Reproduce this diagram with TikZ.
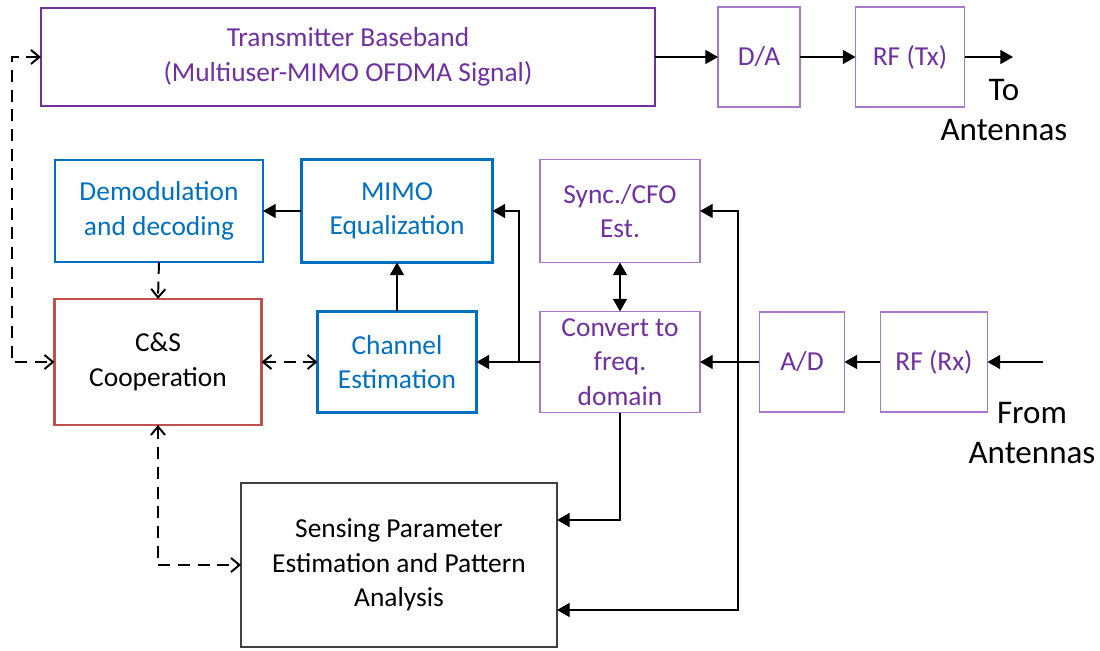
\documentclass[tikz,border=0pt]{standalone}
\usepackage{fontspec}
\setmainfont{Carlito}
\usetikzlibrary{arrows.meta}
\definecolor{txpurple}{HTML}{7030A0}
\definecolor{lightpurple}{HTML}{A878CC}
\definecolor{boxblue}{HTML}{0070C0}
\definecolor{boxred}{HTML}{C0504D}
\begin{document}
\begin{tikzpicture}[x=0.025cm, y=-0.025cm,
    blk/.style={draw, inner sep=0pt, outer sep=0pt, align=center, font=\fontsize{19.5}{24.5}\selectfont},
    pblk/.style={blk, draw=lightpurple, line width=0.8pt, text=txpurple},
    bblk/.style={blk, draw=boxblue, line width=1.6pt, text=boxblue},
    sig/.style={line width=0.9pt, -{Triangle[length=9pt, width=10pt]}},
    ctl/.style={line width=1.4pt, dash pattern=on 8.5pt off 5.5pt, {Straight Barb[length=6pt, width=10pt]}-{Straight Barb[length=6pt, width=10pt]}},
    lbl/.style={align=center, font=\fontsize{23.5}{28.5}\selectfont}]
    \useasboundingbox (0,0) rectangle (1100,651);
    % transmit chain
    \node[blk, draw=txpurple, line width=1.8pt, text=txpurple, minimum width=15.35cm, minimum height=2.45cm] (TB) at (348,57) {Transmitter Baseband\\(Multiuser-MIMO OFDMA Signal)};
    \node[pblk, minimum width=2.05cm, minimum height=2.5cm] (DA) at (759,57) {D/A};
    \node[pblk, minimum width=2.725cm, minimum height=2.5cm] (RFTX) at (910,57) {RF (Tx)};
    \coordinate (TXOUT) at (1013,57);
    \node[lbl] (TOANT) at (1004,110) {To\\Antennas};
    % receive chain
    \node[bblk, minimum width=5.2cm, minimum height=2.55cm] (DEMOD) at (159,211) {Demodulation\\and decoding};
    \node[bblk, minimum width=4.775cm, minimum height=2.575cm] (MIMO) at (397,211) {MIMO\\Equalization};
    \node[pblk, minimum width=4cm, minimum height=2.575cm] (SYNC) at (620,211) {Sync./CFO\\Est.};
    \node[blk, draw=boxred, line width=1.8pt, minimum width=5.175cm, minimum height=3.15cm] (CS) at (158,362) {C\&S\\Cooperation};
    \node[bblk, minimum width=3.975cm, minimum height=2.525cm] (CHEST) at (397,362) {Channel\\Estimation};
    \node[pblk, minimum width=4cm, minimum height=2.525cm] (CONV) at (620,362) {Convert to\\freq.\\domain};
    \node[pblk, minimum width=2.125cm, minimum height=2.5cm] (AD) at (802,362) {A/D};
    \node[pblk, minimum width=2.675cm, minimum height=2.5cm] (RFRX) at (934,362) {RF (Rx)};
    \coordinate (RXIN) at (1043,362);
    \node[lbl] (FROMANT) at (1032,433) {From\\Antennas};
    \node[blk, draw=black!75, line width=0.9pt, minimum width=7.9cm, minimum height=4.1cm] (SENS) at (399,565) {Sensing Parameter\\Estimation and Pattern\\Analysis};
    % junctions
    \coordinate (SPLIT) at (738,362);
    \coordinate (TAP) at (519,362);
    \coordinate (LOOP) at (12,57);

    \draw[sig] (TB.east) -- (DA.west);
    \draw[sig] (DA.east) -- (RFTX.west);
    \draw[sig] (RFTX.east) -- (TXOUT);
    \draw[sig] (RXIN) -- (RFRX.east);
    \draw[sig] (RFRX.west) -- (AD.east);
    \draw[sig] (AD.west) -- (CONV.east);
    \draw[sig] (SPLIT) |- (SYNC.east);
    \draw[sig] (SPLIT) -- (SPLIT |- 0,610) -- (SENS.east |- 0,610);
    \draw[line width=0.9pt, {Triangle[length=9pt, width=10pt]}-{Triangle[length=9pt, width=10pt]}] (SYNC.south) -- (CONV.north);
    \draw[sig] (CONV.west) -- (CHEST.east);
    \draw[sig] (TAP) |- (MIMO.east);
    \draw[sig] (CHEST.north) -- (MIMO.south);
    \draw[sig] (MIMO.west) -- (DEMOD.east);
    \draw[sig] (CONV.south) |- (SENS.east |- 0,520);
    \draw[ctl, -{Straight Barb[length=6pt, width=10pt]}] (DEMOD.south) -- (CS.north);
    \draw[ctl] (CS.east) -- (CHEST.west);
    \draw[ctl] (CS.south) |- (SENS.west);
    \draw[ctl] (TB.west) -- (LOOP) |- (CS.west);
\end{tikzpicture}
\end{document}
